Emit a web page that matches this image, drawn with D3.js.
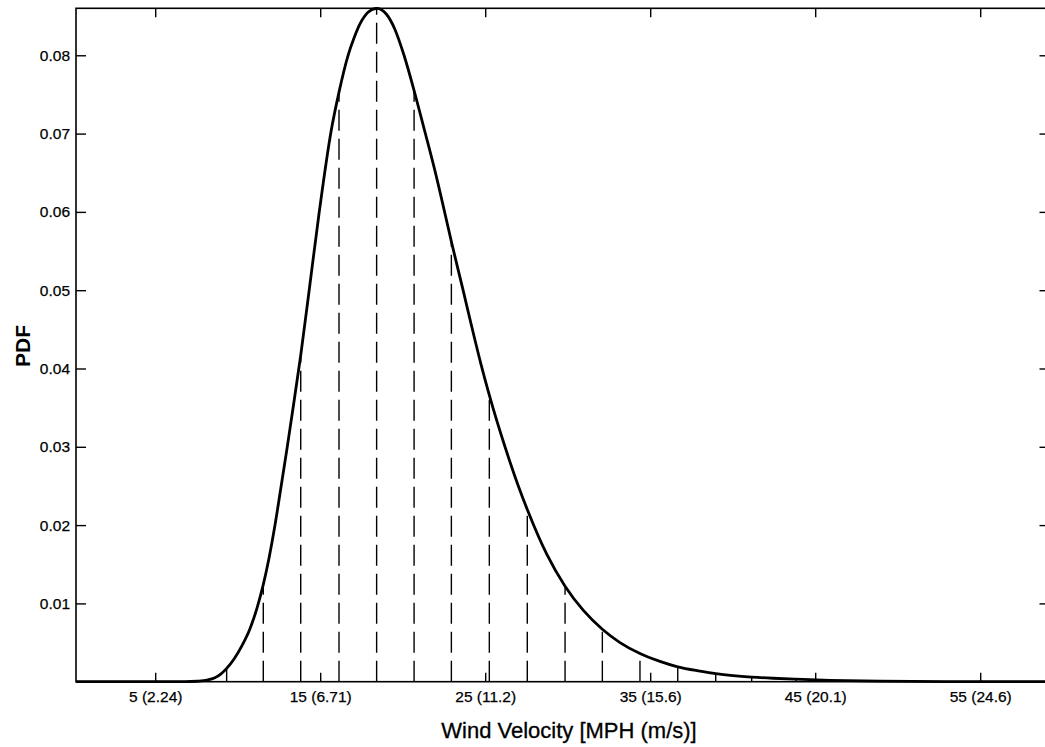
<!DOCTYPE html>
<html>
<head>
<meta charset="utf-8">
<script src="https://cdn.jsdelivr.net/npm/d3@7/dist/d3.min.js"></script>
<style>
  html, body { margin: 0; padding: 0; background: #fff; }
  svg { display: block; font-family: "Liberation Sans", Arial, Helvetica, sans-serif; }
</style>
</head>
<body>
<svg id="chart" width="1045" height="747"></svg>
<script>
// Wind velocity axis (MPH), with the m/s equivalent in each tick label
const mphTicks = [5, 15, 25, 35, 45, 55];
const mphTickLabels = ["5 (2.24)", "15 (6.71)", "25 (11.2)", "35 (15.6)", "45 (20.1)", "55 (24.6)"];
const pdfTicks = [0.01, 0.02, 0.03, 0.04, 0.05, 0.06, 0.07, 0.08];

// Probability density curve of wind speed (MPH, PDF)
const curveMph = [0.2, 6.81, 7.53, 8.14, 8.62, 8.99, 9.33, 9.78, 10.26, 10.75, 11.17, 11.55, 11.90,
  12.26, 12.62, 12.99, 13.35, 13.82, 14.32, 14.93, 15.66, 16.14, 16.69, 17.05, 17.41, 17.90, 18.42,
  18.99, 19.53, 20.08, 20.69, 21.35, 21.96, 22.56, 22.95, 23.66, 24.20, 24.75, 25.25, 26.20, 26.99,
  27.55, 28.73, 29.84, 30.95, 32.10, 33.17, 34.38, 35.59, 36.67, 38.02, 38.97, 40.02, 41.15, 42.44,
  43.84, 45.90, 48.93, 53.17, 59.2];
const curvePdf = [0, 0, 0.00006, 0.0002, 0.0005, 0.0010, 0.0017, 0.0029, 0.0046, 0.0068, 0.0094, 0.0124,
  0.0158, 0.0200, 0.0248, 0.0298, 0.0349, 0.0417, 0.0498, 0.0598, 0.0703, 0.0753, 0.0800, 0.0822,
  0.0840, 0.0855, 0.0860, 0.0853, 0.0833, 0.0800, 0.0755, 0.0702, 0.0652, 0.0598, 0.0562, 0.0500,
  0.0452, 0.0405, 0.0366, 0.0300, 0.0251, 0.0220, 0.0163, 0.0122, 0.0091, 0.0067, 0.0050, 0.0036,
  0.0026, 0.0019, 0.00135, 0.00103, 0.00078, 0.00059, 0.00044, 0.00032, 0.00018, 0.00007, 0.00002, 0];

// Bin boundaries drawn as dashed drop lines under the curve
const dashMph = [9.33, 11.55, 13.82, 16.14, 18.42, 20.69, 22.95, 25.25, 27.55, 29.84, 32.10, 34.38,
  36.67, 38.97, 41.15, 43.84];
const dashPdf = [0.0017, 0.0124, 0.0417, 0.0753, 0.0860, 0.0755, 0.0562, 0.0366, 0.0220, 0.0122,
  0.0067, 0.0036, 0.0019, 0.00103, 0.00059, 0.00032];

const svg = d3.select("#chart");
const plotLeft = 76, plotRight = 1049.5, plotTop = 8.3, plotBottom = 681.7;

const x = d3.scaleLinear().domain([0.2, 59.2]).range([plotLeft, plotRight]);
const y = d3.scaleLinear().domain([0, 0.086]).range([plotBottom, plotTop]);

svg.append("rect").attr("width", 1045).attr("height", 747).attr("fill", "#fff");

svg.append("defs").append("clipPath").attr("id", "plotClip")
  .append("rect").attr("x", plotLeft).attr("y", plotTop - 2)
  .attr("width", plotRight - plotLeft).attr("height", plotBottom - plotTop + 4);

const plot = svg.append("g").attr("clip-path", "url(#plotClip)");

// dashed drop lines, dash pattern starting from the baseline
plot.append("g").selectAll("line")
  .data(dashMph.map((m, i) => ({ m, p: dashPdf[i] })))
  .join("line")
  .attr("x1", d => x(d.m)).attr("x2", d => x(d.m))
  .attr("y1", y(0)).attr("y2", d => y(d.p))
  .attr("stroke", "#000").attr("stroke-width", 1.4)
  .attr("stroke-dasharray", "21,8");

// density curve
const line = d3.line()
  .x(d => x(d.m)).y(d => y(d.p))
  .curve(d3.curveMonotoneX);
plot.append("path")
  .datum(curveMph.map((m, i) => ({ m, p: curvePdf[i] })))
  .attr("d", line)
  .attr("fill", "none").attr("stroke", "#000")
  .attr("stroke-width", 2.8).attr("stroke-linejoin", "round");

// axes with inward ticks on all four sides
const axisStyle = g => {
  g.select(".domain").remove();
  g.selectAll(".tick line").attr("stroke", "#000").attr("stroke-width", 1.4);
  g.selectAll(".tick text").attr("fill", "#000").attr("font-size", "15.5px")
    .attr("font-family", "'Liberation Sans', Arial, sans-serif")
    .attr("stroke", "#000").attr("stroke-width", 0.25);
};

svg.append("g").attr("transform", `translate(0,${plotBottom})`)
  .call(d3.axisBottom(x).tickValues(mphTicks)
    .tickFormat((d, i) => mphTickLabels[i]).tickSize(-9).tickPadding(9))
  .call(axisStyle);

svg.append("g").attr("transform", `translate(0,${plotTop})`)
  .call(d3.axisTop(x).tickValues(mphTicks).tickFormat("").tickSize(-9))
  .call(axisStyle);

svg.append("g").attr("transform", `translate(${plotLeft},0)`)
  .call(d3.axisLeft(y).tickValues(pdfTicks).tickFormat(d3.format(".2f")).tickSize(-10).tickPadding(6))
  .call(axisStyle);

svg.append("g").attr("transform", `translate(${plotRight},0)`)
  .call(d3.axisRight(y).tickValues(pdfTicks).tickFormat("").tickSize(-10))
  .call(axisStyle);

// plot frame
svg.append("rect")
  .attr("x", plotLeft).attr("y", plotTop)
  .attr("width", plotRight - plotLeft).attr("height", plotBottom - plotTop)
  .attr("fill", "none").attr("stroke", "#000").attr("stroke-width", 1.6);

// axis titles
svg.append("text")
  .attr("x", 569).attr("y", 738)
  .attr("text-anchor", "middle").attr("font-size", "22px").attr("fill", "#000")
  .attr("stroke", "#000").attr("stroke-width", 0.3)
  .text("Wind Velocity [MPH (m/s)]");

svg.append("text")
  .attr("transform", `translate(30,${346}) rotate(-90)`)
  .attr("text-anchor", "middle").attr("font-size", "21px").attr("font-weight", "bold")
  .attr("fill", "#000")
  .text("PDF");
</script>
</body>
</html>
